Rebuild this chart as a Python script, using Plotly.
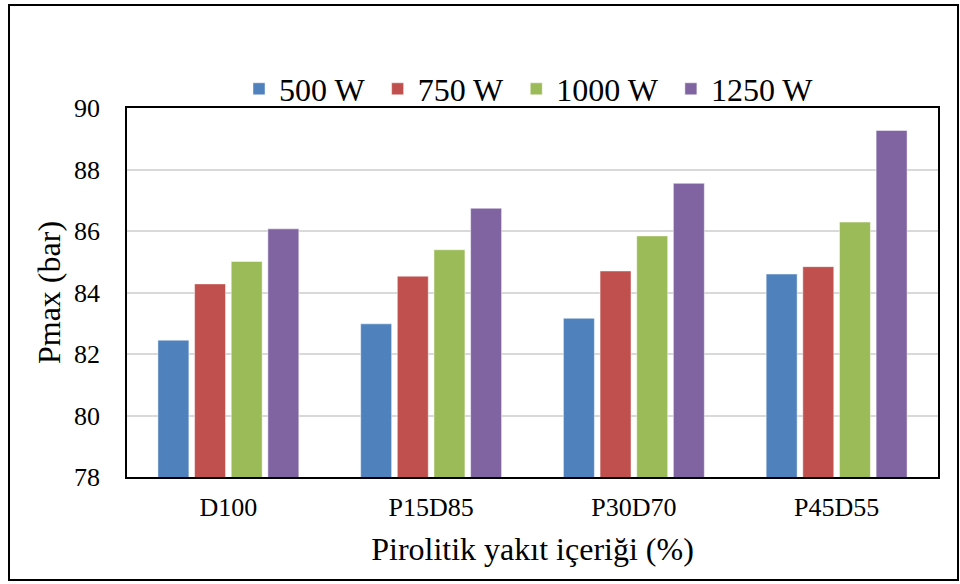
import plotly.graph_objects as go

# Fuel blends on the x axis
categories = ["D100", "P15D85", "P30D70", "P45D55"]

# Peak cylinder pressure (bar) per engine load
series_names = ["500 W", "750 W", "1000 W", "1250 W"]
pmax_500 = [82.45, 82.98, 83.16, 84.60]
pmax_750 = [84.28, 84.53, 84.70, 84.84]
pmax_1000 = [85.01, 85.39, 85.84, 86.29]
pmax_1250 = [86.07, 86.74, 87.55, 89.27]

y_ticks = [78, 80, 82, 84, 86, 88, 90]

colors = ["#4F81BD", "#C0504D", "#9BBB59", "#8064A2"]
series_values = [pmax_500, pmax_750, pmax_1000, pmax_1250]

FONT = "Liberation Serif, Times New Roman, serif"

fig = go.Figure()
for name, vals, col in zip(series_names, series_values, colors):
    fig.add_trace(go.Bar(
        x=categories, y=vals,
        name=name + "\u00a0",  # a little extra room between legend entries
        marker=dict(color=col, line=dict(color="rgba(255,255,255,0.6)", width=0.8)),
    ))

W, H = 960, 584
L, R, T, B = 127, 22, 108, 107
pw, ph = W - L - R, H - T - B

def px_to_paper_x(px):
    return (px - L) / pw

def px_to_paper_y(py):
    return (H - B - py) / ph

fig.update_layout(
    width=W, height=H,
    margin=dict(l=L, r=R, t=T, b=B, pad=0),
    paper_bgcolor="white", plot_bgcolor="white",
    font=dict(family=FONT, color="black", size=26),
    barmode="group", bargap=0.277, bargroupgap=0.155,
    legend=dict(
        orientation="h", x=0.5, xanchor="center",
        y=px_to_paper_y(89), yanchor="middle",
        font=dict(size=32, family=FONT), bgcolor="rgba(0,0,0,0)",
        itemclick=False,
    ),
    showlegend=True,
)

fig.update_yaxes(
    range=[78, 90], tickvals=y_ticks, showgrid=True, gridcolor="#D9D9D9", gridwidth=1.5,
    showline=True, linecolor="black", linewidth=1.5, mirror=True,
    ticks="", ticklabelstandoff=20, tickfont=dict(size=26, family=FONT),
    title=dict(text="Pmax (bar)", font=dict(size=32, family=FONT), standoff=4),
    zeroline=False,
)
fig.update_xaxes(
    showline=True, linecolor="black", linewidth=1.5, mirror=True,
    ticks="", ticklabelstandoff=6, tickfont=dict(size=26, family=FONT),
    title=dict(text="Pirolitik yakıt içeriği (%)", font=dict(size=32, family=FONT), standoff=17),
)

# Outer frame around the whole chart
fig.add_shape(
    type="rect", xref="paper", yref="paper",
    x0=px_to_paper_x(9), x1=px_to_paper_x(958),
    y0=px_to_paper_y(580), y1=px_to_paper_y(5),
    line=dict(color="black", width=2), fillcolor="rgba(0,0,0,0)",
)

fig.write_html("out.html")
